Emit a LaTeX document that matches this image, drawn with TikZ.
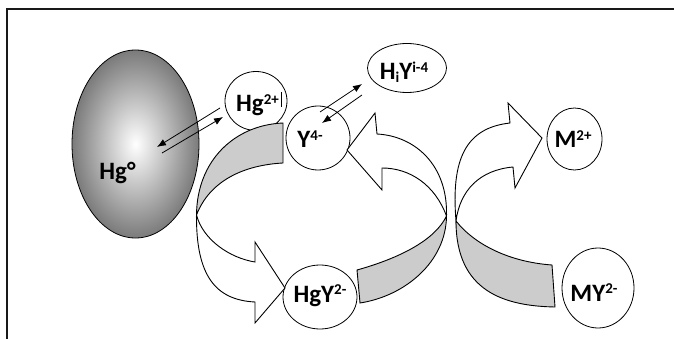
\documentclass[tikz,border=0pt]{standalone}
\usepackage{fontspec}
\setmainfont{Carlito}
\usetikzlibrary{arrows.meta,shapes.geometric}
\newcommand\hi[1]{\raisebox{7.5pt}{\fontsize{15}{15}\selectfont #1}}
\newcommand\lo[1]{\raisebox{-3pt}{\fontsize{15}{15}\selectfont #1}}
\begin{document}
\begin{tikzpicture}[x=1pt,y=-1pt,
  bub/.style={draw,ellipse,fill=white,line width=0.8pt,inner sep=0pt},
  lbl/.style={font=\fontsize{25}{25}\selectfont\bfseries,anchor=base,inner sep=0pt},
  band/.style={draw,line width=0.9pt,fill=black!20},
  front/.style={draw,line width=0.9pt,fill=white},
  eq/.style={line width=0.8pt,-{Latex[length=9pt,width=7pt]}}]
\useasboundingbox (0,0) rectangle (674,339);
\draw[line width=1.6pt,black!90] (7,345) -- (7,9) -- (680,9);

% Hg drop
\node[ellipse,draw,line width=0.8pt,inner sep=0pt,minimum width=127pt,minimum height=188pt,
  shading=radial,inner color=white,outer color=black!52] (hg0) at (135.5,144) {};

% species bubbles
\node[bub,minimum width=62pt,minimum height=59pt] (hg2) at (256,101) {};
\node[bub,minimum width=64pt,minimum height=64pt] (y4) at (318,138) {};
\node[bub,minimum width=79pt,minimum height=49pt] (hiy) at (407,68) {};
\node[bub,minimum width=55pt,minimum height=62pt] (m2) at (574.5,139) {};
\node[bub,minimum width=72pt,minimum height=80pt] (my) at (598,288) {};
\node[bub,minimum width=74pt,minimum height=64pt] (hgy) at (320,297) {};

% equilibrium arrows
\coordinate (e1s) at (220,108); \coordinate (e1t) at (157,147);
\coordinate (e2s) at (162,153); \coordinate (e2t) at (223,117);
\coordinate (e3s) at (320,112); \coordinate (e3t) at (362,84);
\coordinate (e4s) at (362,95);  \coordinate (e4t) at (322,123);
\draw[eq] (e1s) -- (e1t);
\draw[eq] (e2s) -- (e2t);
\draw[eq] (e3s) -- (e3t);
\draw[eq] (e4s) -- (e4t);

% curved block arrow 1
\path[band] (283,123) .. controls (235,125) and (197,160) .. (196.5,215)
  .. controls (210,180) and (245,165) .. (283,163) -- cycle;
\path[front] (196.5,215) .. controls (196,275) and (215,300) .. (255,302)
  -- (255,323) -- (285,288) -- (255,242) -- (255,262)
  .. controls (230,258) and (203,240) .. (196.5,215) -- cycle;

% curved block arrow 2
\path[band] (360,303) .. controls (405,296) and (446,262) .. (446.5,216)
  .. controls (435,240) and (400,258) .. (357,270) -- cycle;
\path[front] (446.5,216) .. controls (448,165) and (415,136) .. (377,134)
  -- (375,113) -- (347,150) -- (382,190) -- (382,168)
  .. controls (410,168) and (435,185) .. (446.5,216) -- cycle;

% curved block arrow 3
\path[band] (555,307) .. controls (505,306) and (456,292) .. (456,221)
  .. controls (475,245) and (510,262) .. (552,265) -- cycle;
\path[front] (456,221) .. controls (451,160) and (465,128) .. (510,123)
  -- (508,103) -- (542,138) -- (515,188) -- (513,167)
  .. controls (480,170) and (460,190) .. (456,221) -- cycle;

% labels
\node[lbl] (thg0) at (117.5,180) {Hg°};
\node[lbl] (thg2) at (257.5,111.7) {Hg\hi{2+}};
\draw[line width=0.5pt] (281,92) -- (281,107);
\node[lbl] (ty4) at (310,148) {Y\hi{4-}};
\node[lbl] (thiy) at (404,80) {H\lo{i}Y\hi{i-4}};
\node[lbl] (tm2) at (573,148) {M\hi{2+}};
\node[lbl] (tmy) at (594,301) {MY\hi{2-}};
\node[lbl] (thgy) at (320,302) {HgY\hi{2-}};
\end{tikzpicture}
\end{document}
